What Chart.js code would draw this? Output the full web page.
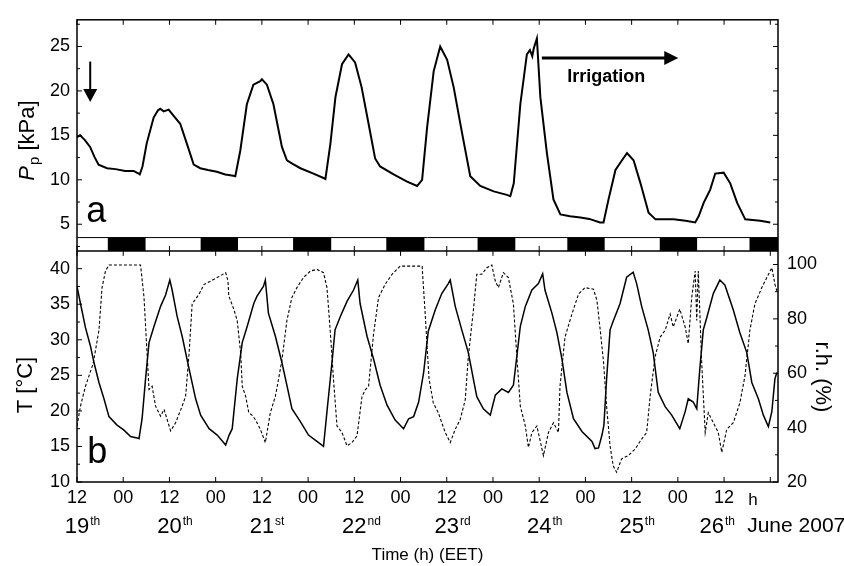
<!DOCTYPE html>
<html>
<head>
<meta charset="utf-8">
<script src="https://cdn.jsdelivr.net/npm/chart.js@4/dist/chart.umd.min.js"></script>
<style>
  body { margin: 0; background: #fff; }
</style>
</head>
<body>
<canvas id="c" width="844" height="566"></canvas>
<script>
// hours counted from 12:00 on 19 June 2007 (EET)
var ppHours = [0, 0.8, 2, 3.4, 4.5, 5.6, 7.8, 10, 12.5, 14.7, 16, 16.3, 17, 18.1, 19.9, 21, 21.6, 22.5, 23.8, 25.1, 26.8, 28.5, 30.3, 32, 34, 36.3, 38.5, 40.6, 41.1,
  42.4, 44.1, 45.8, 47.6, 48, 49.3, 51, 53.2, 54.5, 56, 58, 61.4, 64, 64.5, 65.8, 67.1, 68.8, 70.5, 72.2, 73.9, 75.7, 77.4, 78.7, 82.2, 85.7, 88.3, 89.6,
  90.9, 92.6, 94.3, 96.1, 97.8, 100, 102.1, 104.7, 108.2, 111.6, 112.5, 113.4, 115.1, 116.8, 117.6, 118.2, 118.6, 119.4, 120.3, 122, 123.7, 125.5, 128,
  130.7, 133, 135.8, 136.7, 138, 139.8, 141.5, 142.8, 144.5, 146.3, 148.4, 150.2, 154.9, 158, 160.5, 161.4, 162.7, 164.4, 165.7, 167.9, 169.6, 171.4,
  173.5, 177.4, 180];
var ppValues = [14.8, 15.0, 14.5, 13.7, 12.6, 11.7, 11.3, 11.2, 11.0, 11.0, 10.7, 10.6, 11.5, 14.1, 17.0, 17.8, 18.0, 17.7, 17.9, 17.2, 16.3, 14.1, 11.7, 11.3, 11.1, 10.9, 10.6, 10.45, 10.4,
  13.3, 18.5, 20.7, 21.1, 21.3, 20.7, 18.5, 13.7, 12.2, 11.8, 11.3, 10.7, 10.2, 10.1, 14.1, 19.3, 23.0, 24.1, 23.2, 20.4, 16.3, 12.4, 11.5, 10.6, 9.8, 9.3, 10.0,
  15.9, 22.2, 25.0, 23.5, 20.4, 15.2, 10.4, 9.3, 8.7, 8.3, 8.15, 9.6, 18.5, 24.1, 24.6, 23.9, 24.8, 25.9, 19.3, 13.0, 7.8, 6.1, 5.9,
  5.75, 5.6, 5.2, 5.2, 7.8, 11.1, 12.2, 13.0, 12.2, 9.6, 6.3, 5.55, 5.55, 5.4, 5.2, 5.9, 7.4, 8.9, 10.7, 10.8, 9.6, 7.4,
  5.55, 5.4, 5.2];

var tHours = [0, 0.9, 2.2, 3.5, 4.4, 5.7, 7, 8.3, 10.4, 12.2, 13.9, 15.6, 16.1, 16.9, 17.8, 18.7, 20, 21.7, 23, 24.1, 24.7, 26, 27.3, 29.1, 30.8, 32.1, 34.3, 36.4, 38.6, 39.5, 40.3,
  41.6, 42.9, 44.2, 45.9, 46.7, 48.4, 48.9, 49.7, 51.5, 53.2, 54.5, 55.8, 58, 60.1, 62.3, 64, 64.9, 66.2, 67, 68.4, 70.1, 71.8, 72.9, 73.5, 75.3, 77, 78.7,
  80.5, 82.6, 84.8, 86.1, 87.4, 88.7, 90, 91.2, 93, 94.7, 96.4, 96.9, 98.2, 99.9, 101.6, 102.9, 103.8, 105.5, 107.3, 108.6, 110.3, 112, 113.3, 114.2, 115.1,
  116.4, 118.1, 119.8, 120.9, 121.5, 123.3, 124.6, 125.9, 127.2, 128.9, 131.1, 133.7, 134.5, 135.4, 136.3, 136.8, 137.5, 138.4, 139.2, 141, 142.7, 144.4,
  145.3, 146.6, 148.3, 149.6, 150.9, 152.7, 154.4, 156.5, 157.9, 158.7, 160, 160.9, 161.7, 162.6, 163.5, 165.2, 166.9, 168.2, 170.4, 172.1, 173.9, 175.2,
  176.9, 178.2, 179.5, 180.4, 181.2, 181.7];
var tValues = [37.5, 35.1, 31.7, 29.1, 26.8, 24.0, 21.7, 19.2, 18.0, 17.3, 16.4, 16.2, 16.1, 18.9, 24.5, 29.6, 31.9, 34.7, 36.3, 38.4, 37.0, 33.3, 30.5, 25.9, 21.7, 19.4, 17.5, 16.6, 15.2, 16.6, 17.5,
  24.5, 29.6, 31.9, 35.1, 36.1, 37.5, 38.4, 33.75, 30.5, 26.8, 23.6, 20.3, 18.5, 16.6, 15.7, 15.0, 19.9, 26.8, 31.4, 33.3, 35.4, 37.0, 38.4, 35.1, 30.5, 27.3, 23.6,
  20.8, 18.7, 17.5, 18.9, 19.2, 21.25, 25.4, 31.2, 34.2, 36.5, 37.9, 38.4, 34.7, 31.4, 28.2, 24.5, 22.0, 20.3, 19.4, 22.2, 23.1, 22.6, 23.6, 27.7, 31.9,
  34.7, 37.0, 37.9, 39.3, 37.0, 33.75, 31.0, 27.3, 22.6, 18.9, 17.1, 15.7, 14.7, 14.8, 16.6, 18.0, 24.5, 31.4, 32.6, 35.1, 38.8, 39.5,
  37.9, 34.7, 31.4, 28.2, 22.6, 20.6, 19.4, 17.5, 19.9, 21.7, 21.25, 20.3, 25.9, 31.4, 33.1, 36.5, 38.4, 37.7, 34.2, 31.0, 28.2, 24.0,
  21.7, 19.4, 17.8, 19.9, 24.5, 25.4];

var rhHours = [0, 0.9, 2.2, 4.2, 5.7, 6.5, 7.4, 8.3, 16.5, 17.4, 18.1, 18.7, 19.5, 20.4, 21.7, 22.6, 24.3, 25.6, 27.3, 28.2, 29.1, 29.9, 31.7, 33, 34.7, 36.4, 38.6, 39.2, 39.4,
  40.7, 41.6, 42.5, 42.9, 43.8, 44.6, 45.5, 46.3, 47.6, 48.9, 50.2, 51.5, 52.3, 53.2, 54.5, 55.8, 57.1, 58.8, 60.6, 62.3, 64, 64.9, 65.8, 66.6, 67.5, 68.8,
  70.1, 71.4, 72.7, 74, 74.9, 75.7, 77, 78.3, 80, 81.8, 83.9, 89.6, 90.4, 90.9, 91.4, 92.5, 93.8, 95.6, 96.9, 98.2, 99.5, 100.8, 101.6, 102.9, 103.8, 105.1,
  106.4, 107.7, 108.6, 109.4, 110.7, 112, 113.3, 114.2, 115.1, 116.4, 117.2, 118.1, 119.4, 121.1, 122.4, 123.7, 125, 125.4, 126.7, 128.5, 130.2, 131.9,
  134.1, 135, 135.8, 136.7, 137.5, 138.4, 139.2, 140.1, 141.4, 143.1, 144.9, 146.6, 147.9, 148.8, 150.1, 151.4, 152.7, 154, 154.8, 156.5, 157.9, 158.7,
  159.6, 160.5, 160.9, 161.3, 162.2, 163.1, 163.9, 165.2, 166.5, 167.4, 168.7, 170.4, 172.1, 173.4, 174.7, 176, 177.8, 179.1, 180.4, 181.2, 181.7];
var rhValues = [40.6, 47.9, 55.2, 63.6, 75.8, 91.5, 97.6, 99.8, 99.8, 87.9, 69.7, 54.0, 55.2, 47.9, 44.2, 46.7, 38.8, 41.8, 47.9, 51.5, 67.3, 85.5, 89.1, 92.7, 93.9, 95.2, 97.0, 93.9, 88.5,
  83.6, 79.4, 67.3, 55.2, 51.5, 45.5, 44.5, 43.0, 39.4, 34.5, 45.5, 51.5, 57.6, 64.8, 79.4, 87.9, 91.5, 95.2, 97.6, 98.2, 97.0, 91.5, 74.5, 57.6, 40.6, 38.2,
  33.3, 34.5, 37.0, 51.5, 54.0, 55.2, 74.5, 87.9, 92.7, 96.4, 99.4, 99.4, 81.8, 69.7, 58.0, 49.1, 45.5, 38.2, 34.5, 39.4, 43.0, 50.3, 66.1, 83.0, 96.4, 96.4,
  98.8, 99.8, 93.9, 91.5, 97.0, 95.2, 85.5, 66.1, 47.9, 40.6, 32.7, 38.2, 40.6, 29.7, 38.2, 41.8, 38.2, 55.2, 73.3, 81.8, 89.1, 91.5,
  90.9, 86.7, 76.5, 64.2, 47.9, 33.3, 26.0, 23.6, 28.5, 29.7, 32.1, 35.8, 38.2, 51.5, 66.1, 73.3, 75.8, 81.8, 77.0, 83.6, 77.0, 70.9,
  87.9, 97.6, 79.4, 97.6, 63.6, 38.2, 45.5, 41.8, 38.2, 30.9, 39.4, 41.8, 49.1, 58.8, 75.8, 85.5, 91.5, 95.2, 98.8, 92.7, 90.3];

// dark periods of the day/night bar
var nightStart = [8, 32.1, 56.1, 80.3, 104, 127.3, 151.3, 174.6];
var nightEnd = [17.8, 41.8, 66, 90.2, 113.8, 137, 161, 182];

var xTickHours = [0, 12, 24, 36, 48, 60, 72, 84, 96, 108, 120, 132, 144, 156, 168, 180];
var xTickLabels = ['12', '00', '12', '00', '12', '00', '12', '00', '12', '00', '12', '00', '12', '00', '12', ''];
var dayHours = [0, 24, 48, 72, 96, 120, 144, 164.8];
var dayNumbers = ['19', '20', '21', '22', '23', '24', '25', '26'];
var daySuffixes = ['th', 'th', 'st', 'nd', 'rd', 'th', 'th', 'th'];

var ppTicks = [5, 10, 15, 20, 25];
var ppMinor = [2.5, 7.5, 12.5, 17.5, 22.5, 27.5];
var tTicks = [10, 15, 20, 25, 30, 35, 40];
var tMinor = [12.5, 17.5, 22.5, 27.5, 32.5, 37.5];
var rhTicks = [20, 40, 60, 80, 100];
var rhMinor = [30, 50, 70, 90];

var FONT = '"Liberation Sans", Arial, Helvetica, sans-serif';

function pts(xs, ys) {
  return xs.map(function (x, i) { return { x: x, y: ys[i] }; });
}

// outline of the black night blocks, filled down to the bottom of the bar
var nightPts = [{ x: 0, y: 2 }];
nightStart.forEach(function (s, i) {
  nightPts.push({ x: s, y: 2 }, { x: s, y: 3.5 }, { x: nightEnd[i], y: 3.5 }, { x: nightEnd[i], y: 2 });
});

function setTicks(vals) {
  return function (scale) { scale.ticks = vals.map(function (v) { return { value: v }; }); };
}
function width(w) { return function (scale) { scale.width = w; }; }

var frame = {
  id: 'frame',
  afterDraw: function (chart) {
    var ctx = chart.ctx, a = chart.chartArea, s = chart.scales;
    var mid = s.yP.bottom;
    function line(x1, y1, x2, y2) { ctx.beginPath(); ctx.moveTo(x1, y1); ctx.lineTo(x2, y2); ctx.stroke(); }
    ctx.save();
    ctx.strokeStyle = '#000';
    ctx.fillStyle = '#000';

    ctx.lineWidth = 1;
    var stripTop = s.yP.getPixelForValue(3.5);
    line(a.left, stripTop, a.right, stripTop);

    ctx.lineWidth = 1.5;
    ctx.strokeRect(a.left, a.top, a.right - a.left, a.bottom - a.top);
    line(a.left, mid, a.right, mid);

    ctx.lineWidth = 1;
    xTickHours.forEach(function (h) {
      var x = s.x.getPixelForValue(h);
      line(x, a.top, x, a.top + 5);
      line(x, mid - 5, x, mid + 5);
      line(x, a.bottom - 5, x, a.bottom);
    });
    function yt(scale, vals, len, left, right) {
      vals.forEach(function (v) {
        var y = scale.getPixelForValue(v);
        if (left) line(a.left, y, a.left + len, y);
        if (right) line(a.right - len, y, a.right, y);
      });
    }
    yt(s.yP, ppTicks, 5, true, true);
    yt(s.yP, ppMinor, 3, true, true);
    yt(s.yT, tTicks, 5, true, false);
    yt(s.yT, tMinor, 3, true, false);
    yt(s.yRH, rhTicks, 5, false, true);
    yt(s.yRH, rhMinor, 3, false, true);

    // down arrow at start of record
    var ax = s.x.getPixelForValue(3.43);
    var ay1 = s.yP.getPixelForValue(23.3), ay2 = s.yP.getPixelForValue(18.74);
    ctx.lineWidth = 2;
    line(ax, ay1, ax, ay2 - 12);
    ctx.beginPath(); ctx.moveTo(ax - 7, ay2 - 13); ctx.lineTo(ax + 7, ay2 - 13); ctx.lineTo(ax, ay2); ctx.closePath(); ctx.fill();

    // irrigation arrow
    var ix1 = s.x.getPixelForValue(120.7), ix2 = s.x.getPixelForValue(156.1), iy = s.yP.getPixelForValue(23.7);
    ctx.lineWidth = 3;
    line(ix1, iy, ix2 - 12, iy);
    ctx.beginPath(); ctx.moveTo(ix2 - 14, iy - 7); ctx.lineTo(ix2, iy); ctx.lineTo(ix2 - 14, iy + 7); ctx.closePath(); ctx.fill();
    ctx.font = 'bold 18px ' + FONT;
    ctx.textAlign = 'left'; ctx.textBaseline = 'alphabetic';
    ctx.fillText('Irrigation', s.x.getPixelForValue(127.3), s.yP.getPixelForValue(20.97));

    // panel letters
    ctx.font = '36px ' + FONT;
    ctx.fillText('a', s.x.getPixelForValue(2.4), s.yP.getPixelForValue(5.2));
    ctx.fillText('b', s.x.getPixelForValue(2.65), s.yT.getPixelForValue(12.64));

    // axis titles
    ctx.save();
    ctx.translate(34, 141);
    ctx.rotate(-Math.PI / 2);
    ctx.font = 'italic 22px ' + FONT;
    var wP = ctx.measureText('P').width;
    ctx.font = '15px ' + FONT;
    var wp = ctx.measureText('p').width;
    ctx.font = '22px ' + FONT;
    var wr = ctx.measureText(' [kPa]').width;
    var x0 = -(wP + wp + wr) / 2;
    ctx.textAlign = 'left';
    ctx.font = 'italic 22px ' + FONT; ctx.fillText('P', x0, 0);
    ctx.font = '15px ' + FONT; ctx.fillText('p', x0 + wP + 1, 5);
    ctx.font = '22px ' + FONT; ctx.fillText(' [kPa]', x0 + wP + wp + 1, 0);
    ctx.restore();

    ctx.save();
    ctx.translate(32, 385);
    ctx.rotate(-Math.PI / 2);
    ctx.font = '22px ' + FONT; ctx.textAlign = 'center';
    ctx.fillText('T [\u00B0C]', 0, 0);
    ctx.restore();

    ctx.save();
    ctx.translate(816, 377);
    ctx.rotate(Math.PI / 2);
    ctx.font = '22px ' + FONT; ctx.textAlign = 'center';
    ctx.fillText('r.h. (%)', 0, 0);
    ctx.restore();

    // day labels under the time axis
    ctx.textAlign = 'left';
    dayHours.forEach(function (h, i) {
      var x = s.x.getPixelForValue(h);
      ctx.font = '22px ' + FONT;
      var w = ctx.measureText(dayNumbers[i]).width;
      ctx.fillText(dayNumbers[i], x - w / 2, a.bottom + 51);
      ctx.font = '12px ' + FONT;
      ctx.fillText(daySuffixes[i], x + w / 2 + 1, a.bottom + 43);
    });
    ctx.font = '21px ' + FONT;
    ctx.fillText('June 2007', s.x.getPixelForValue(174.0), a.bottom + 50);
    ctx.font = '17px ' + FONT; ctx.textAlign = 'center';
    ctx.fillText('h', s.x.getPixelForValue(175.5), a.bottom + 23);
    ctx.fillText('Time (h) (EET)', (a.left + a.right) / 2, a.bottom + 78);
    ctx.restore();
  }
};

var tickFont = { family: FONT, size: 18 };

new Chart(document.getElementById('c'), {
  type: 'line',
  data: {
    datasets: [
      { label: 'night', data: nightPts, yAxisID: 'yP', borderWidth: 0, pointRadius: 0, fill: { value: 2 }, backgroundColor: '#000', borderColor: '#000' },
      { label: 'Pp', data: pts(ppHours, ppValues), yAxisID: 'yP', borderColor: '#000', borderWidth: 2, pointRadius: 0, fill: false },
      { label: 'T', data: pts(tHours, tValues), yAxisID: 'yT', borderColor: '#000', borderWidth: 1.5, pointRadius: 0, fill: false },
      { label: 'r.h.', data: pts(rhHours, rhValues), yAxisID: 'yRH', borderColor: '#000', borderWidth: 1.1, borderDash: [3, 2], pointRadius: 0, fill: false }
    ]
  },
  options: {
    responsive: false,
    animation: false,
    layout: { padding: { top: 15, left: 0, right: 0, bottom: 0 } },
    plugins: { legend: { display: false }, tooltip: { enabled: false } },
    scales: {
      x: {
        type: 'linear', position: 'bottom', min: 0, max: 182,
        afterBuildTicks: setTicks(xTickHours),
        afterFit: function (sc) { sc.height = 84; },
        grid: { display: false, drawTicks: false }, border: { display: false },
        ticks: { color: '#000', font: tickFont, padding: 5, maxRotation: 0, autoSkip: false,
          callback: function (v) { var i = xTickHours.indexOf(v); return i < 0 ? '' : xTickLabels[i]; } }
      },
      // left stack: the last defined axis ends up on top
      yT: {
        type: 'linear', position: 'left', stack: 'left', stackWeight: 1, min: 10, max: 42.5,
        afterBuildTicks: setTicks(tTicks), afterFit: width(77),
        grid: { display: false, drawTicks: false }, border: { display: false },
        ticks: { color: '#000', font: tickFont, padding: 7, autoSkip: false }
      },
      yP: {
        type: 'linear', position: 'left', stack: 'left', stackWeight: 1, min: 2, max: 28,
        afterBuildTicks: setTicks(ppTicks), afterFit: width(77),
        grid: { display: false, drawTicks: false }, border: { display: false },
        ticks: { color: '#000', font: tickFont, padding: 7, autoSkip: false }
      },
      yP2: {
        type: 'linear', position: 'right', stack: 'right', stackWeight: 1, min: 2, max: 28,
        afterFit: width(66),
        grid: { display: false, drawTicks: false }, border: { display: false },
        ticks: { display: false }
      },
      yRH: {
        type: 'linear', position: 'right', stack: 'right', stackWeight: 1, min: 20, max: 105,
        afterBuildTicks: setTicks(rhTicks), afterFit: width(66),
        grid: { display: false, drawTicks: false }, border: { display: false },
        ticks: { color: '#000', font: tickFont, padding: 9, autoSkip: false }
      }
    }
  },
  plugins: [frame]
});
</script>
</body>
</html>
